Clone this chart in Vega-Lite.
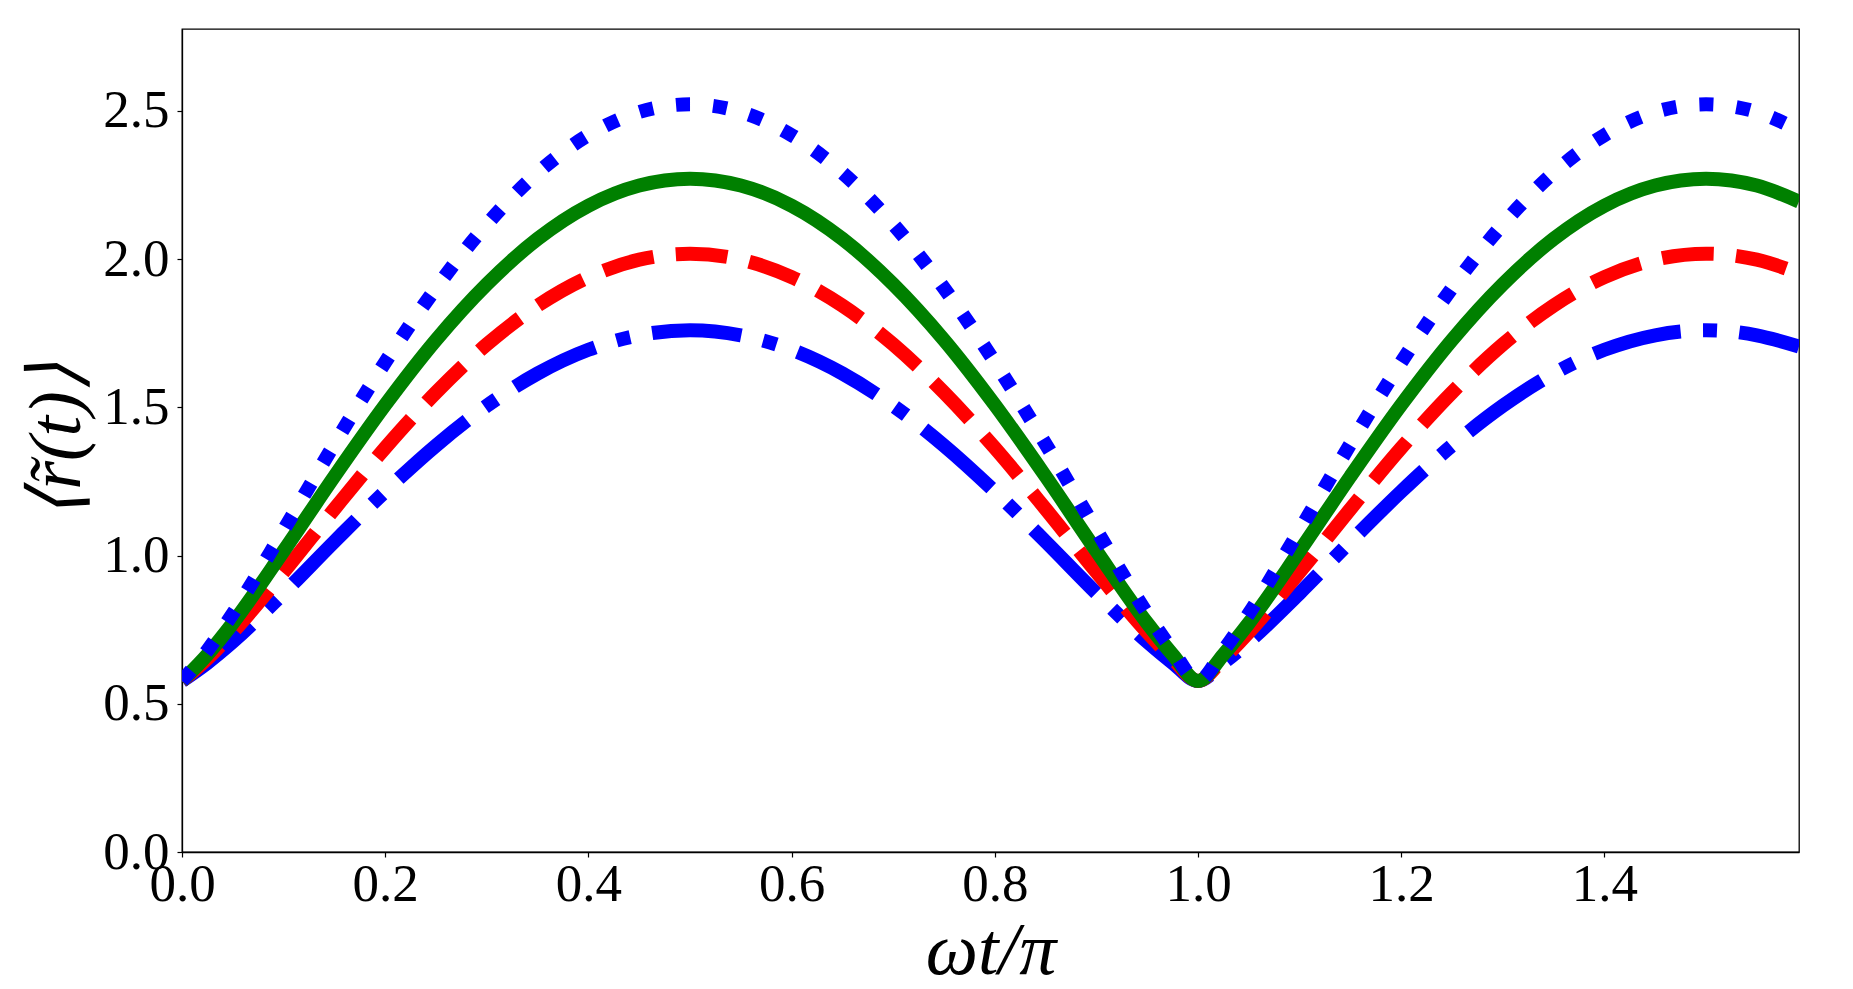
{
  "$schema": "https://vega.github.io/schema/vega-lite/v6.json",
  "width": 1617,
  "height": 823,
  "autosize": {"type": "none"},
  "padding": {"left": 182, "top": 29, "right": 54, "bottom": 137},
  "background": "white",
  "config": {
    "view": {"stroke": "black", "strokeWidth": 1.3},
    "axis": {
      "grid": false,
      "domainColor": "black",
      "domainWidth": 1.3,
      "tickColor": "black",
      "tickWidth": 1.2,
      "tickSize": 5,
      "labelFont": "Liberation Serif",
      "labelFontSize": 53,
      "labelColor": "black",
      "titleFont": "Liberation Serif",
      "titleFontStyle": "italic",
      "titleFontWeight": "normal",
      "titleFontSize": 74,
      "titleColor": "black"
    }
  },
  "data": {
    "values": [
      {"x": 0, "dot": 0.577, "solid": 0.577, "dash": 0.577, "dd": 0.577},
      {"x": 0.025, "dot": 0.680, "solid": 0.666, "dash": 0.652, "dd": 0.638},
      {"x": 0.05, "dot": 0.804, "solid": 0.772, "dash": 0.741, "dd": 0.709},
      {"x": 0.1, "dot": 1.086, "solid": 1.015, "dash": 0.944, "dd": 0.873},
      {"x": 0.15, "dot": 1.376, "solid": 1.267, "dash": 1.157, "dd": 1.047},
      {"x": 0.2, "dot": 1.652, "solid": 1.508, "dash": 1.363, "dd": 1.216},
      {"x": 0.25, "dot": 1.902, "solid": 1.727, "dash": 1.550, "dd": 1.371},
      {"x": 0.3, "dot": 2.117, "solid": 1.915, "dash": 1.712, "dd": 1.505},
      {"x": 0.35, "dot": 2.291, "solid": 2.068, "dash": 1.843, "dd": 1.614},
      {"x": 0.4, "dot": 2.418, "solid": 2.180, "dash": 1.939, "dd": 1.694},
      {"x": 0.45, "dot": 2.496, "solid": 2.248, "dash": 1.998, "dd": 1.743},
      {"x": 0.5, "dot": 2.522, "solid": 2.271, "dash": 2.018, "dd": 1.760},
      {"x": 0.55, "dot": 2.496, "solid": 2.248, "dash": 1.998, "dd": 1.743},
      {"x": 0.6, "dot": 2.418, "solid": 2.180, "dash": 1.939, "dd": 1.694},
      {"x": 0.65, "dot": 2.291, "solid": 2.068, "dash": 1.843, "dd": 1.614},
      {"x": 0.7, "dot": 2.117, "solid": 1.915, "dash": 1.712, "dd": 1.505},
      {"x": 0.75, "dot": 1.902, "solid": 1.727, "dash": 1.550, "dd": 1.371},
      {"x": 0.8, "dot": 1.652, "solid": 1.508, "dash": 1.363, "dd": 1.216},
      {"x": 0.85, "dot": 1.376, "solid": 1.267, "dash": 1.157, "dd": 1.047},
      {"x": 0.9, "dot": 1.086, "solid": 1.015, "dash": 0.944, "dd": 0.873},
      {"x": 0.95, "dot": 0.804, "solid": 0.772, "dash": 0.741, "dd": 0.709},
      {"x": 0.975, "dot": 0.680, "solid": 0.666, "dash": 0.652, "dd": 0.638},
      {"x": 1.0, "dot": 0.577, "solid": 0.577, "dash": 0.577, "dd": 0.577},
      {"x": 1.025, "dot": 0.680, "solid": 0.666, "dash": 0.652, "dd": 0.638},
      {"x": 1.05, "dot": 0.804, "solid": 0.772, "dash": 0.741, "dd": 0.709},
      {"x": 1.1, "dot": 1.086, "solid": 1.015, "dash": 0.944, "dd": 0.873},
      {"x": 1.15, "dot": 1.376, "solid": 1.267, "dash": 1.157, "dd": 1.047},
      {"x": 1.2, "dot": 1.652, "solid": 1.508, "dash": 1.363, "dd": 1.216},
      {"x": 1.25, "dot": 1.902, "solid": 1.727, "dash": 1.550, "dd": 1.371},
      {"x": 1.3, "dot": 2.117, "solid": 1.915, "dash": 1.712, "dd": 1.505},
      {"x": 1.35, "dot": 2.291, "solid": 2.068, "dash": 1.843, "dd": 1.614},
      {"x": 1.4, "dot": 2.418, "solid": 2.180, "dash": 1.939, "dd": 1.694},
      {"x": 1.45, "dot": 2.496, "solid": 2.248, "dash": 1.998, "dd": 1.743},
      {"x": 1.5, "dot": 2.522, "solid": 2.271, "dash": 2.018, "dd": 1.760},
      {"x": 1.55, "dot": 2.496, "solid": 2.248, "dash": 1.998, "dd": 1.743},
      {"x": 1.5915, "dot": 2.434, "solid": 2.194, "dash": 1.952, "dd": 1.705}
    ]
  },
  "encoding": {
    "x": {
      "field": "x",
      "type": "quantitative",
      "scale": {"domain": [0, 1.5915], "nice": false, "zero": false},
      "axis": {
        "values": [0, 0.2, 0.4, 0.6, 0.8, 1.0, 1.2, 1.4],
        "format": ".1f",
        "labelPadding": 1,
        "labelFlush": false,
        "title": "ωt/π",
        "titleY": 99,
        "titleBaseline": "middle"
      }
    }
  },
  "layer": [
    {
      "mark": {"type": "line", "color": "#0000ff", "strokeWidth": 14, "strokeCap": "butt", "strokeDash": [89.6, 22.4, 14, 22.4], "interpolate": "monotone", "clip": true},
      "encoding": {
        "y": {
          "field": "dd",
          "type": "quantitative",
          "scale": {"domain": [0, 2.776], "nice": false},
          "axis": {
            "values": [0, 0.5, 1.0, 1.5, 2.0, 2.5],
            "format": ".1f",
            "labelPadding": 8,
            "labelFlush": false,
            "labelBaseline": "middle",
            "title": "⟨r̃(t)⟩",
            "titleAngle": 270,
            "titleX": -125,
            "titleY": 411,
            "titleAlign": "center",
            "titleBaseline": "middle"
          }
        }
      }
    },
    {
      "mark": {"type": "line", "color": "#ff0000", "strokeWidth": 14, "strokeCap": "butt", "strokeDash": [51.8, 22.4], "interpolate": "monotone", "clip": true},
      "encoding": {"y": {"field": "dash", "type": "quantitative"}}
    },
    {
      "mark": {"type": "line", "color": "#008000", "strokeWidth": 14, "interpolate": "monotone", "clip": true},
      "encoding": {"y": {"field": "solid", "type": "quantitative"}}
    },
    {
      "mark": {"type": "line", "color": "#0000ff", "strokeWidth": 14, "strokeCap": "butt", "strokeDash": [14, 23.1], "interpolate": "monotone", "clip": true},
      "encoding": {"y": {"field": "dot", "type": "quantitative"}}
    }
  ]
}
